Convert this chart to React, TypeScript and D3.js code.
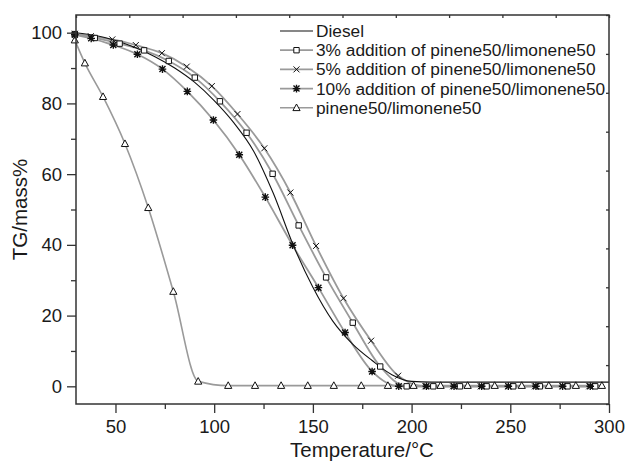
import React, { useEffect, useRef } from "react";
import * as d3 from "d3";

const W = 630;
const H = 463;
const M = { left: 76, right: 21, top: 15, bottom: 59 };

// Diesel (no markers)
const dieselT = [30, 40, 50, 60, 70, 80, 90, 100, 110, 120, 130, 140, 150, 160, 170, 180, 190, 200, 210, 230, 260, 300];
const dieselM = [100, 99.2, 97.8, 95.8, 93.2, 90, 86, 80.8, 74.5, 66.5, 54.5, 40, 28, 18.5, 12, 7.3, 3.3, 1.4, 1.2, 1.2, 1.2, 1.2];

// 3% addition (squares)
const p3T = [29.4, 39.5, 52.1, 64.5, 77, 90.2, 102.9, 116.4, 129.6, 142.8, 156.7, 170.2, 184.1, 197.5, 211, 224.5, 238, 251.5, 265, 279, 293];
const p3M = [99.6, 98.5, 96.9, 95.0, 92.0, 87.3, 80.6, 71.7, 60.1, 45.5, 30.8, 18.0, 5.6, 0, 0, 0, 0, 0, 0, 0, 0];

// 5% addition (crosses)
const p5T = [29.4, 37.5, 48.4, 60.3, 73.5, 86.1, 98.8, 111.8, 125.4, 138.6, 151.6, 165.5, 179.5, 193.2, 207, 221, 235, 249, 262.5, 276.5, 290];
const p5M = [99.7, 99, 98.1, 96.5, 94.2, 90.4, 84.9, 77.0, 67.3, 54.8, 39.7, 24.9, 12.9, 3.0, 0, 0, 0, 0, 0, 0, 0];

// 10% addition (asterisks)
const p10T = [29.4, 37.7, 48.9, 61.1, 73.8, 86.4, 99.6, 112.7, 125.9, 139.7, 152.8, 166.3, 180, 193.5, 207.5, 221.5, 235.5, 249, 263, 276.5, 290.5];
const p10M = [99.4, 98.4, 96.5, 93.9, 89.7, 83.4, 75.3, 65.5, 53.5, 39.9, 27.9, 15.2, 4.2, 0, 0, 0, 0, 0, 0, 0, 0];

// pinene50/limonene50 (triangles)
const pnT = [29.4, 34.5, 43.7, 54.8, 66.6, 79.3, 91.9, 107.1, 120.7, 133.9, 147.4, 160.6, 174.5, 188, 201, 214.7, 228.4, 242.1, 255.8, 269.5, 283.2, 296.4];
const pnM = [97.9, 91.4, 81.9, 68.6, 50.5, 26.8, 1.4, 0.2, 0.2, 0.2, 0.2, 0.2, 0.2, 0.2, 0.2, 0.2, 0.2, 0.2, 0.2, 0.2, 0.2, 0.2];

const legendLabels = [
  "Diesel",
  "3% addition of pinene50/limonene50",
  "5% addition of pinene50/limonene50",
  "10% addition of pinene50/limonene50",
  "pinene50/limonene50",
];
const markerTypes = ["none", "square", "cross", "asterisk", "triangle"];

const xMajor = [50, 100, 150, 200, 250, 300];
const xMinor = [75, 125, 175, 225, 275];
const yMajor = [0, 20, 40, 60, 80, 100];
const yMinor = [10, 30, 50, 70, 90];

const FONT = "'Liberation Sans', Arial, Helvetica, sans-serif";
const GRAY = "#9a9a9a";
const AXIS = "#333";
const TEXT = "#1a1a1a";

function markerPath(type: string): string {
  if (type === "cross") return "M-3,-3L3,3M-3,3L3,-3";
  if (type === "asterisk") return "M-3,-3L3,3M-3,3L3,-3M0,-3.8L0,3.8M-3.8,0L3.8,0";
  if (type === "triangle") return "M0,-3.8L3.6,2.8L-3.6,2.8Z";
  if (type === "square") return "M-2.7,-2.7L2.7,-2.7L2.7,2.7L-2.7,2.7Z";
  return "";
}

export default function App() {
  const ref = useRef<SVGSVGElement | null>(null);

  useEffect(() => {
    const svg = d3.select(ref.current);
    svg.selectAll("*").remove();

    const x = d3.scaleLinear().domain([30, 300]).range([M.left, W - M.right]);
    const y = d3.scaleLinear().domain([-5, 105]).range([H - M.bottom, M.top]);
    const x0 = M.left, x1 = W - M.right, y0 = H - M.bottom, y1 = M.top;

    const series = [
      { t: dieselT, m: dieselM, marker: "none", color: "#111", width: 1.1 },
      { t: p3T, m: p3M, marker: "square", color: GRAY, width: 1.8 },
      { t: p5T, m: p5M, marker: "cross", color: GRAY, width: 1.8 },
      { t: p10T, m: p10M, marker: "asterisk", color: GRAY, width: 1.8 },
      { t: pnT, m: pnM, marker: "triangle", color: GRAY, width: 1.6 },
    ];

    const line = d3
      .line<[number, number]>()
      .x((d) => x(d[0]))
      .y((d) => y(d[1]))
      .curve(d3.curveMonotoneX);

    const plot = svg.append("g");
    const order = [4, 1, 2, 3, 0];
    order.forEach((i) => {
      const s = series[i];
      const pts = s.t.map((t, k) => [t, s.m[k]] as [number, number]);
      plot
        .append("path")
        .attr("d", line(pts) as string)
        .attr("fill", "none")
        .attr("stroke", s.color)
        .attr("stroke-width", s.width);
    });
    order.forEach((i) => {
      const s = series[i];
      if (s.marker === "none") return;
      const g = plot.append("g");
      s.t.forEach((t, k) => {
        g.append("path")
          .attr("transform", `translate(${x(t)},${y(s.m[k])})`)
          .attr("d", markerPath(s.marker))
          .attr("fill", s.marker === "square" || s.marker === "triangle" ? "#fff" : "none")
          .attr("stroke", "#111")
          .attr("stroke-width", s.marker === "asterisk" ? 1.4 : 1);
      });
    });

    // frame
    svg
      .append("rect")
      .attr("x", x0)
      .attr("y", y1)
      .attr("width", x1 - x0)
      .attr("height", y0 - y1)
      .attr("fill", "none")
      .attr("stroke", AXIS)
      .attr("stroke-width", 1.5);

    const styleAxis = (g: any) => {
      g.select(".domain").remove();
      g.selectAll("line").attr("stroke", AXIS).attr("stroke-width", 1.3);
      g.selectAll("text").attr("fill", TEXT).attr("font-family", FONT).attr("font-size", 18.5);
    };

    svg
      .append("g")
      .attr("transform", `translate(0,${y0})`)
      .call(d3.axisBottom(x).tickValues(xMajor).tickSize(9).tickPadding(7).tickFormat(d3.format("d")))
      .call(styleAxis);
    svg
      .append("g")
      .attr("transform", `translate(0,${y0})`)
      .call(d3.axisBottom(x).tickValues(xMinor).tickSize(5).tickFormat(() => ""))
      .call(styleAxis);
    svg
      .append("g")
      .attr("transform", `translate(${x0},0)`)
      .call(d3.axisLeft(y).tickValues(yMajor).tickSize(9).tickPadding(5).tickFormat(d3.format("d")))
      .call(styleAxis);
    svg
      .append("g")
      .attr("transform", `translate(${x0},0)`)
      .call(d3.axisLeft(y).tickValues(yMinor).tickSize(5).tickFormat(() => ""))
      .call(styleAxis);
    svg
      .append("g")
      .attr("transform", `translate(0,${y1})`)
      .call(d3.axisBottom(x).tickValues(d3.range(30, 301, 27)).tickSize(3).tickFormat(() => ""))
      .call(styleAxis);
    svg
      .append("g")
      .attr("transform", `translate(${x1},0)`)
      .call(d3.axisLeft(y).tickValues(d3.range(-5, 106, 11)).tickSize(3).tickFormat(() => ""))
      .call(styleAxis);

    // axis titles
    svg
      .append("text")
      .attr("x", 362)
      .attr("y", 457)
      .attr("text-anchor", "middle")
      .attr("font-family", FONT)
      .attr("font-size", 20.5)
      .attr("fill", TEXT)
      .text("Temperature/°C");
    svg
      .append("text")
      .attr("transform", `translate(26.5,${(y0 + y1) / 2}) rotate(-90)`)
      .attr("text-anchor", "middle")
      .attr("font-family", FONT)
      .attr("font-size", 20.5)
      .attr("fill", TEXT)
      .text("TG/mass%");

    // legend
    const lg = svg.append("g");
    legendLabels.forEach((lab, i) => {
      const ly = 31 + i * 19.2;
      const s = series[i];
      lg.append("line")
        .attr("x1", 280)
        .attr("x2", 313)
        .attr("y1", ly)
        .attr("y2", ly)
        .attr("stroke", s.color)
        .attr("stroke-width", s.width);
      if (markerTypes[i] !== "none") {
        lg.append("path")
          .attr("transform", `translate(296.5,${ly})`)
          .attr("d", markerPath(markerTypes[i]))
          .attr("fill", markerTypes[i] === "square" || markerTypes[i] === "triangle" ? "#fff" : "none")
          .attr("stroke", "#111")
          .attr("stroke-width", markerTypes[i] === "asterisk" ? 1.4 : 1);
      }
      lg.append("text")
        .attr("x", 316)
        .attr("y", ly)
        .attr("dy", "0.35em")
        .attr("font-family", FONT)
        .attr("font-size", 17.3)
        .attr("fill", TEXT)
        .text(lab);
    });
  }, []);

  return (
    <svg
      ref={ref}
      width={W}
      height={H}
      style={{ position: "absolute", left: 0, top: 0, background: "#fff" }}
    />
  );
}
